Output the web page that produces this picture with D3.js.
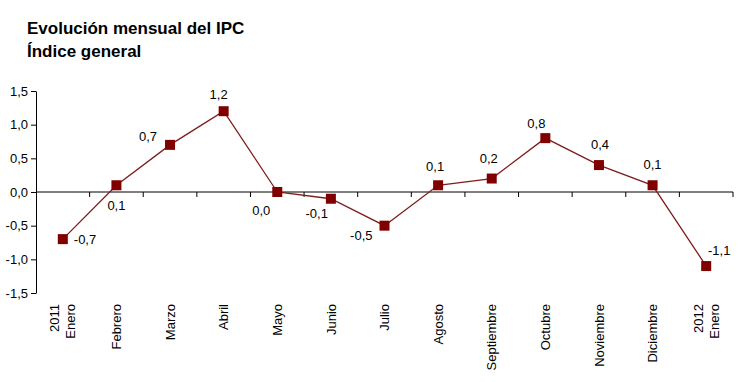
<!DOCTYPE html>
<html><head><meta charset="utf-8">
<script src="https://cdn.jsdelivr.net/npm/d3@7"></script>
<style>body{margin:0;background:#fff;} text{font-family:"Liberation Sans",Arial,sans-serif;}</style>
</head><body>
<svg id="c" width="744" height="382"></svg>
<script>
const categories = [["2011","Enero"],["Febrero"],["Marzo"],["Abril"],["Mayo"],["Junio"],["Julio"],["Agosto"],["Septiembre"],["Octubre"],["Noviembre"],["Diciembre"],["2012","Enero"]];
const values = [-0.7,0.1,0.7,1.2,0.0,-0.1,-0.5,0.1,0.2,0.8,0.4,0.1,-1.1];
const yTicks = [-1.5,-1.0,-0.5,0.0,0.5,1.0,1.5];
// label placement: [dx, dy, anchor]
const labelPos = [[11,5,"start"],[0,25,"middle"],[-13,-4,"end"],[-5,-12,"middle"],[-7,23,"end"],[-3,19,"end"],[-12,14,"end"],[-3,-14,"middle"],[-3,-16,"middle"],[-9,-10,"middle"],[1,-16,"middle"],[0,-16,"middle"],[13,-11,"middle"]];

const svg = d3.select("#c");
const x = d3.scaleBand().domain(d3.range(categories.length)).range([36,733]);
const y = d3.scaleLinear().domain([-1.5,1.5]).range([293,91]);
const fmt = v => d3.format(".1f")(v).replace(".",",").replace("−","-");
const cxOf = i => x(i)+x.bandwidth()/2;
const FS = 13;

svg.append("text").attr("x",27).attr("y",34).attr("font-size",17).attr("font-weight","bold").text("Evolución mensual del IPC");
svg.append("text").attr("x",27).attr("y",57).attr("font-size",17).attr("font-weight","bold").text("Índice general");

const ya = svg.append("g").attr("transform","translate(36,0)")
  .call(d3.axisLeft(y).tickValues(yTicks).tickSize(5).tickSizeOuter(0).tickFormat(fmt));
ya.select(".domain").attr("stroke","#000");
ya.selectAll("text").attr("font-size",FS).attr("fill","#000").attr("font-family","Liberation Sans, Arial, sans-serif");

// zero line with category ticks
const zg = svg.append("g").attr("transform",`translate(0,${y(0)})`);
zg.append("line").attr("x1",36).attr("x2",733).attr("stroke","#000");
zg.selectAll("line.t").data(d3.range(1,categories.length+1)).join("line")
  .attr("x1",d=>x(0)+d*x.step()).attr("x2",d=>x(0)+d*x.step()).attr("y1",0).attr("y2",5).attr("stroke","#000");

// category labels
const lg = svg.append("g");
categories.forEach((c,i)=>{
  const cx = cxOf(i);
  const n = c.length;
  c.forEach((t,j)=>{
    const off = (j-(n-1)/2)*16 + FS*0.36;
    lg.append("text").attr("font-size",FS).attr("text-anchor","end")
      .attr("transform",`translate(${cx+off},304) rotate(-90)`).text(t);
  });
});

const line = d3.line().x((d,i)=>cxOf(i)).y(d=>y(d));
svg.append("path").datum(values).attr("d",line).attr("fill","none").attr("stroke","#7f1d1d").attr("stroke-width",1.3);
svg.selectAll("rect.m").data(values).join("rect").attr("class","m")
  .attr("x",(d,i)=>cxOf(i)-5).attr("y",d=>y(d)-5).attr("width",10).attr("height",10).attr("fill","#800000");
svg.selectAll("text.v").data(values).join("text").attr("class","v")
  .attr("x",(d,i)=>cxOf(i)+labelPos[i][0]).attr("y",(d,i)=>y(d)+labelPos[i][1])
  .attr("text-anchor",(d,i)=>labelPos[i][2]).attr("font-size",FS).text(fmt);
</script>
</body></html>
